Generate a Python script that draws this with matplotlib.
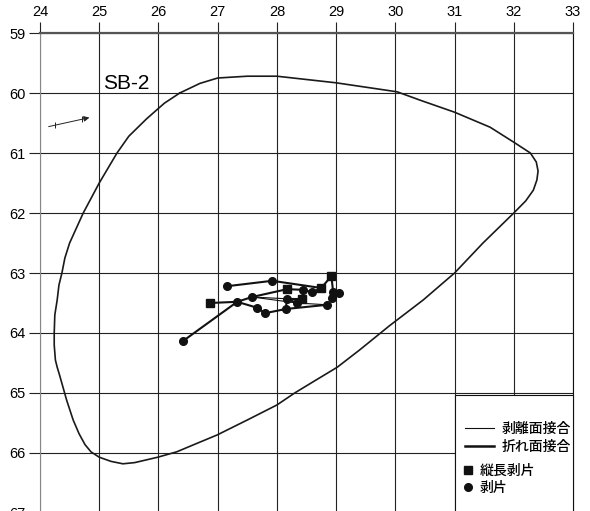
import matplotlib
matplotlib.use("Agg")
import matplotlib.pyplot as plt
from matplotlib.lines import Line2D
from matplotlib.patches import Rectangle

# outline of the whole distribution (clockwise)
curve_x = [26.36, 26.7, 27.0, 27.5, 28.0, 29.0, 30.03, 30.42, 31.0, 31.6, 32.0, 32.28,
           32.38, 32.41, 32.39, 32.33, 32.2, 32.0, 31.48, 31.0, 30.47, 29.9, 29.4, 29.02,
           28.6, 28.3, 28.0, 27.5, 26.99, 26.6, 26.31, 25.99, 25.6, 25.4, 25.2, 25.0,
           24.86, 24.76, 24.66, 24.56, 24.45, 24.33, 24.29, 24.26, 24.24, 24.24, 24.25,
           24.29, 24.32, 24.37, 24.42, 24.5, 24.73, 25.0, 25.3, 25.5, 25.8, 26.1, 26.36]
curve_y = [60.0, 59.84, 59.75, 59.72, 59.72, 59.83, 59.98, 60.12, 60.32, 60.57, 60.82, 61.0,
           61.15, 61.3, 61.45, 61.62, 61.8, 62.0, 62.5, 63.0, 63.45, 63.88, 64.28, 64.57,
           64.82, 65.0, 65.2, 65.45, 65.7, 65.86, 65.98, 66.07, 66.16, 66.18, 66.14, 66.07,
           65.98, 65.86, 65.68, 65.45, 65.12, 64.7, 64.57, 64.45, 64.2, 64.0, 63.7,
           63.45, 63.2, 63.0, 62.75, 62.5, 62.0, 61.5, 61.0, 60.72, 60.43, 60.17, 60.0]

# flakes
pt_x = [26.42, 26.87, 27.33, 27.16, 27.92, 28.92, 27.58, 27.67, 27.80, 28.15, 28.17,
        28.17, 28.34, 28.43, 28.44, 28.60, 28.75, 28.95, 29.05, 28.93, 28.85]
pt_y = [64.13, 63.50, 63.48, 63.22, 63.13, 63.05, 63.40, 63.58, 63.67, 63.60, 63.43,
        63.27, 63.50, 63.43, 63.28, 63.32, 63.25, 63.32, 63.33, 63.42, 63.53]
pt_kind = ["o", "s", "o", "o", "o", "s", "o", "o", "o", "o", "o",
           "s", "o", "s", "o", "o", "s", "o", "o", "o", "o"]

# refits (index pairs)
break_joins = [(0, 2), (1, 2), (2, 6), (6, 11), (11, 14), (14, 15), (15, 16), (16, 5),
               (5, 17), (17, 18), (18, 19), (3, 4), (4, 16), (2, 7), (7, 8), (8, 9),
               (9, 20), (10, 13), (13, 14), (10, 12), (9, 10)]
flake_joins = [(6, 12), (12, 20), (6, 10)]

plt.rcParams["font.family"] = ["Liberation Sans Narrow", "Liberation Sans", "DejaVu Sans"]

fig = plt.figure(figsize=(5.9, 5.11), dpi=100)
ax = fig.add_axes([0.0678, -0.0039, 0.9034, 0.9393])

ax.plot(curve_x, curve_y, color="#1a1a1a", lw=1.2, zorder=3)

for a, b in flake_joins:
    ax.plot([pt_x[a], pt_x[b]], [pt_y[a], pt_y[b]], color="#111", lw=0.8, zorder=4)
for a, b in break_joins:
    ax.plot([pt_x[a], pt_x[b]], [pt_y[a], pt_y[b]], color="#111", lw=1.5, zorder=4)

for x, y, k in zip(pt_x, pt_y, pt_kind):
    ms = 6 if k == "s" else 5.5
    ax.plot(x, y, marker=k, ms=ms, color="#111", zorder=5)

ax.text(25.07, 59.93, "SB-2", fontsize=15, va="baseline", ha="left",
        family=["Liberation Sans", "DejaVu Sans"])

# direction arrow
ax.annotate("", xy=(24.88, 60.40), xytext=(24.1, 60.57),
            arrowprops=dict(arrowstyle="-|>", lw=0.7, color="#222",
                            mutation_scale=8, facecolor="white"))
ax.plot([24.25, 24.71], [60.53, 60.43], ls="none", marker="|", ms=5, mew=0.7, color="#222")

ax.set_xlim(24, 33)
ax.set_ylim(67, 59)
ax.set_xticks(range(24, 34))
ax.set_yticks(range(59, 68))
ax.xaxis.tick_top()
ax.tick_params(axis="both", direction="out", length=8, width=0.8, labelsize=10.5, color="#222")
ax.tick_params(axis="x", pad=2)
ax.tick_params(axis="y", pad=2.5)
ax.set_axisbelow(True)
ax.grid(True, color="#222", lw=0.8)
ax.spines["top"].set_linewidth(1.6)
ax.spines["top"].set_color("#555")
ax.spines["left"].set_color("#888")
ax.spines["right"].set_color("#111")
ax.spines["bottom"].set_visible(False)

# legend box
ax.add_patch(Rectangle((0.7786, -0.01), 0.2214, 0.2558, transform=ax.transAxes,
                       facecolor="white", edgecolor="#111", lw=0.8, zorder=6, clip_on=False))

jp = ["Noto Sans CJK JP", "DejaVu Sans"]
line_handles = [Line2D([], [], color="#111", lw=0.8), Line2D([], [], color="#111", lw=1.8)]
leg1 = ax.legend(line_handles, ["剥離面接合", "折れ面接合"], loc="upper left",
                 bbox_to_anchor=(0.784, 0.205), frameon=False, borderpad=0,
                 handlelength=2.1, handletextpad=0.55, labelspacing=0.3,
                 prop={"family": jp, "size": 10, "weight": "medium"})
leg1.set_zorder(7)
ax.add_artist(leg1)

marker_handles = [Line2D([], [], ls="none", marker="s", ms=6, color="#111"),
                  Line2D([], [], ls="none", marker="o", ms=5.5, color="#111")]
leg2 = ax.legend(marker_handles, ["縦長剥片", "剥片"], loc="upper left",
                 bbox_to_anchor=(0.781, 0.116), frameon=False, borderpad=0,
                 handlelength=0.7, handletextpad=0.5, labelspacing=0.2,
                 prop={"family": jp, "size": 10, "weight": "medium"})
leg2.set_zorder(7)

fig.savefig("out.png", dpi=100)
